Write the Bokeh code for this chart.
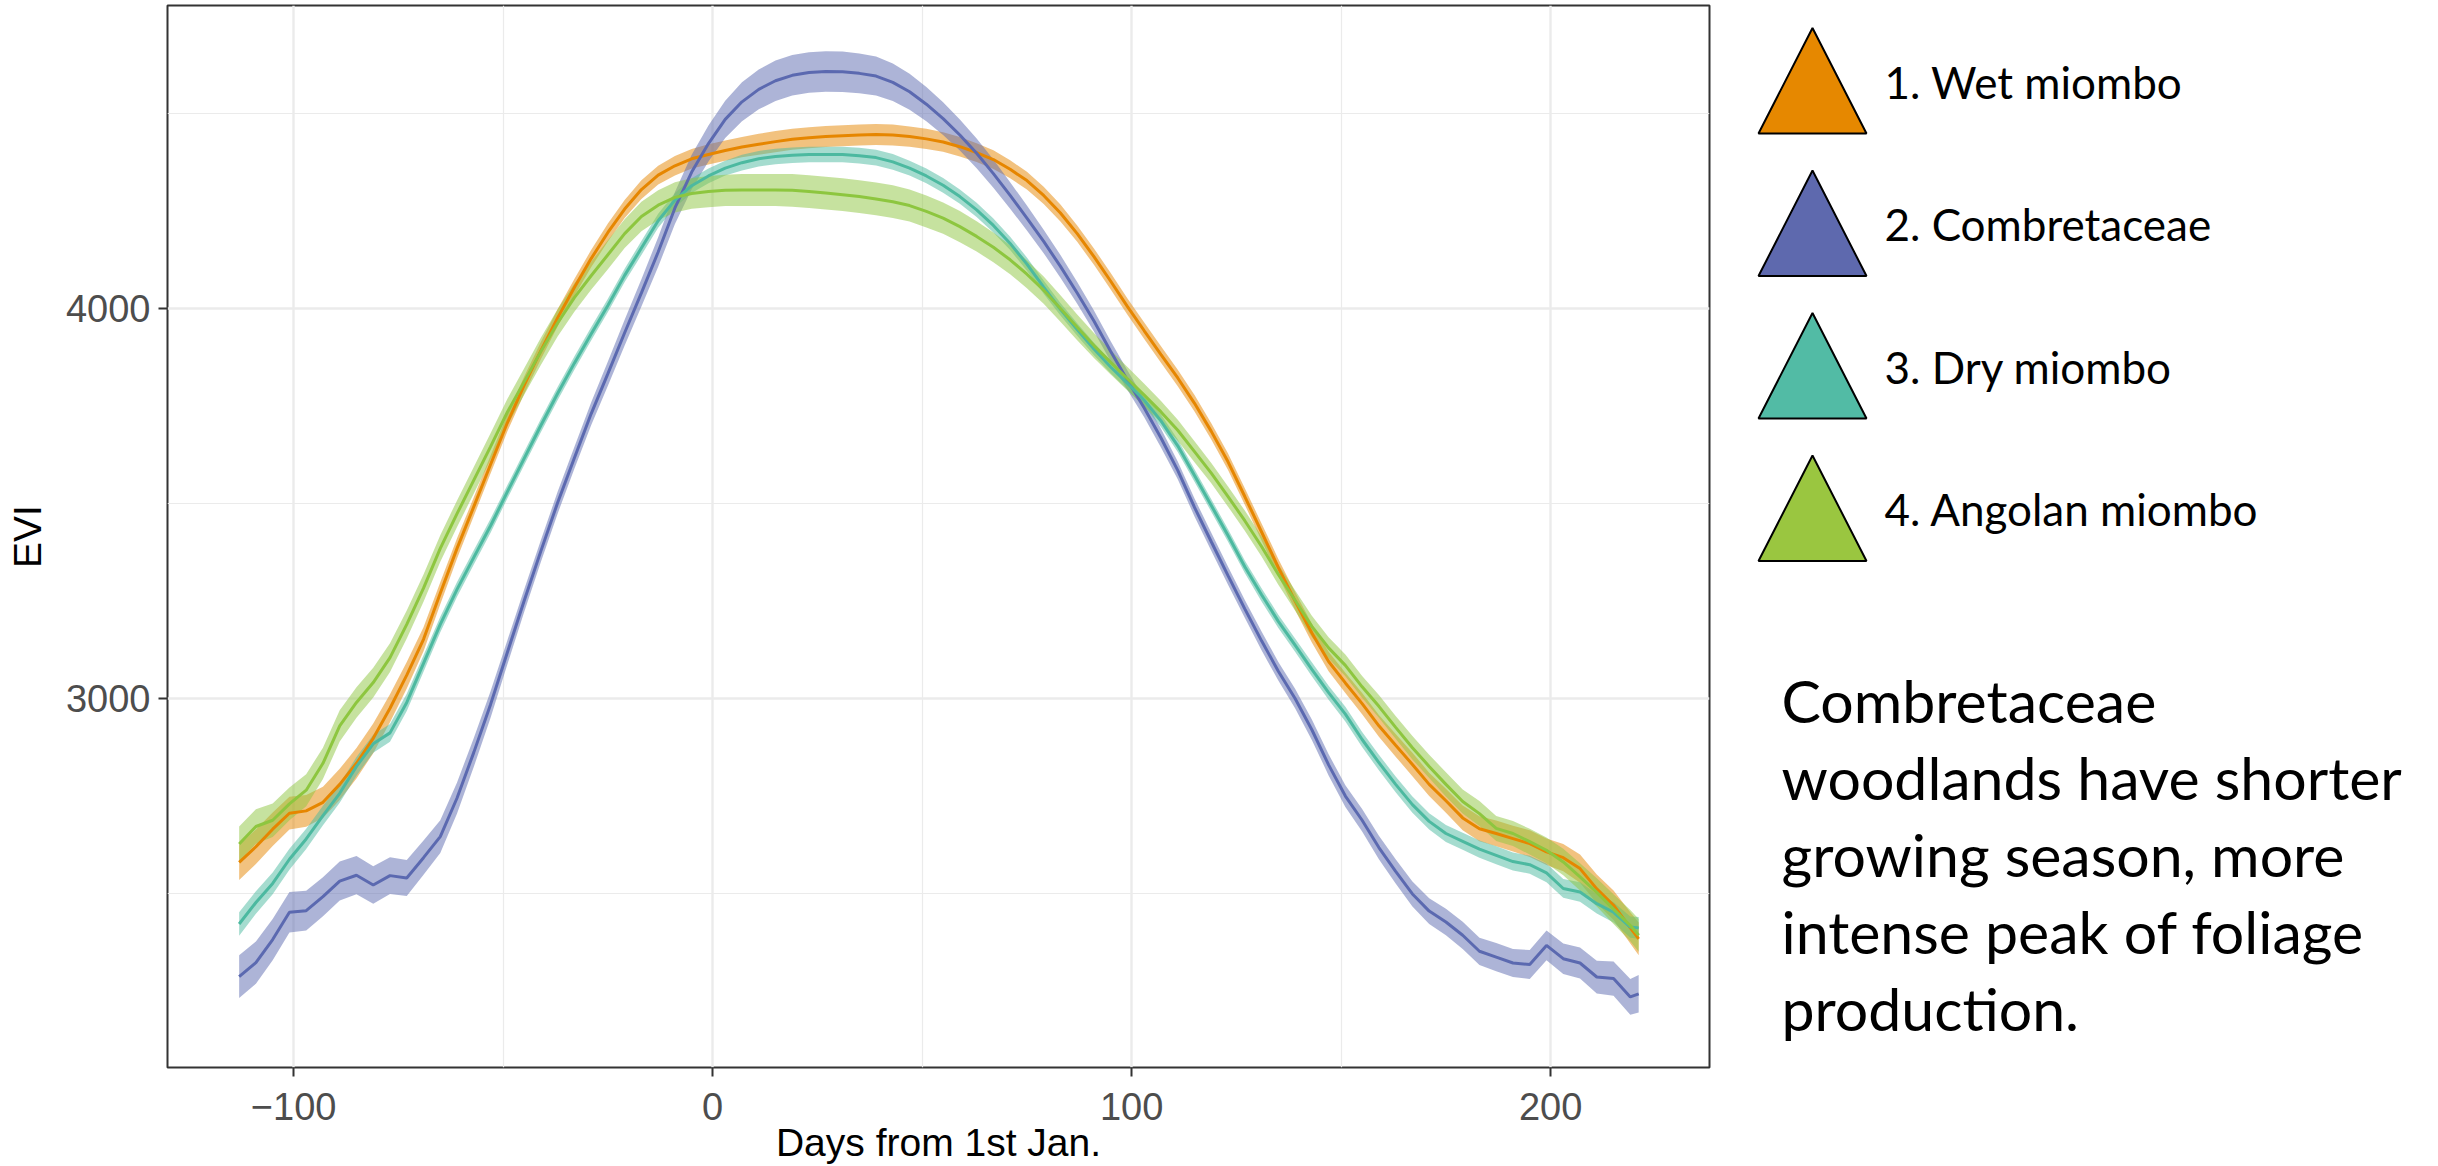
from bokeh.plotting import figure
from bokeh.models import Range1d, FixedTicker
from bokeh.layouts import row
from bokeh.embed import file_html
from bokeh.resources import INLINE
from bokeh.core.properties import value

# ---------------- data ----------------
days = [-113, -109, -105, -101, -97, -93, -89, -85, -81, -77, -73, -69, -65, -61,
        -57, -53, -49, -45, -41, -37, -33, -29, -25, -21, -17, -13, -9, -5, -1,
        3, 7, 11, 15, 19, 23, 27, 31, 35, 39, 43, 47, 51, 55, 59, 63, 67, 71, 75,
        79, 83, 87, 91, 95, 99, 103, 107, 111, 115, 119, 123, 127, 131, 135, 139, 143, 147,
        151, 155, 159, 163, 167, 171, 175, 179, 183, 187, 191, 195, 199, 203, 207, 211, 215, 219, 221]

wet_evi = [2580, 2620, 2665, 2706, 2712, 2734, 2780, 2834, 2898, 2975, 3060, 3152, 3270, 3385,
           3492, 3600, 3707, 3803, 3892, 3976, 4054, 4128, 4195, 4255, 4305, 4342, 4366, 4384, 4395,
           4405, 4414, 4421, 4428, 4434, 4438, 4441, 4443, 4445, 4446, 4445, 4441, 4435, 4427, 4415, 4400, 4382, 4357, 4328,
           4290, 4245, 4192, 4133, 4070, 4005, 3943, 3882, 3822, 3757, 3685, 3607, 3518, 3427, 3336, 3250, 3168, 3095,
           3040, 2987, 2930, 2880, 2831, 2780, 2738, 2694, 2666, 2654, 2641, 2628, 2607, 2592, 2564, 2512, 2470, 2412, 2384]
wet_se = [45, 44, 43, 42, 41, 40, 40, 39, 38, 36, 34, 31, 28, 26,
          24, 23, 22, 22, 22, 22, 22, 22, 23, 23, 24, 24, 25, 25, 26,
          26, 26, 27, 27, 27, 27, 27, 27, 27, 27, 27, 26, 26, 25, 25, 24, 24, 23, 23,
          22, 22, 21, 21, 21, 21, 21, 21, 21, 21, 21, 21, 21, 22, 22, 23, 24, 25,
          26, 27, 28, 29, 30, 30, 31, 32, 32, 33, 33, 34, 34, 35, 36, 37, 38, 40, 42]

comb_evi = [2287, 2323, 2382, 2452, 2456, 2492, 2532, 2547, 2522, 2546, 2540, 2592, 2646, 2745,
            2862, 2985, 3118, 3250, 3378, 3502, 3617, 3730, 3833, 3938, 4040, 4145, 4258, 4350, 4423,
            4485, 4530, 4562, 4584, 4598, 4605, 4608, 4607, 4603, 4596, 4580, 4556, 4524, 4487, 4445, 4398, 4346, 4290, 4232,
            4172, 4108, 4040, 3968, 3890, 3816, 3745, 3668, 3585, 3490, 3402, 3315, 3230, 3148, 3070, 3000, 2920, 2830,
            2750, 2688, 2618, 2557, 2499, 2455, 2427, 2393, 2352, 2337, 2322, 2318, 2367, 2333, 2322, 2286, 2282, 2235, 2243]
comb_se = [55, 54, 53, 52, 51, 50, 50, 49, 48, 47, 46, 44, 42, 40,
           37, 34, 31, 29, 28, 28, 28, 29, 31, 33, 35, 38, 41, 44, 46,
           48, 50, 51, 52, 52, 52, 52, 52, 51, 50, 48, 46, 44, 42, 40, 38, 36, 34, 32,
           30, 29, 28, 27, 26, 25, 24, 24, 23, 23, 23, 23, 23, 24, 24, 25, 26, 27,
           28, 29, 30, 31, 32, 33, 34, 35, 35, 36, 36, 37, 38, 39, 40, 42, 44, 46, 48]

dry_evi = [2422, 2477, 2526, 2588, 2640, 2700, 2757, 2826, 2884, 2912, 2990, 3090, 3190, 3280,
           3362, 3443, 3530, 3615, 3700, 3782, 3860, 3935, 4008, 4085, 4155, 4225, 4278, 4315, 4340,
           4360, 4374, 4384, 4390, 4393, 4395, 4395, 4395, 4392, 4387, 4376, 4360, 4340, 4316, 4287, 4253, 4213, 4167, 4114,
           4055, 3998, 3946, 3896, 3850, 3808, 3765, 3712, 3648, 3572, 3495, 3418, 3338, 3266, 3198, 3137, 3075, 3015,
           2960, 2895, 2836, 2780, 2728, 2685, 2654, 2634, 2614, 2598, 2582, 2574, 2553, 2513, 2504, 2474, 2452, 2414, 2412]
dry_se = [30, 29, 28, 27, 26, 25, 24, 24, 23, 23, 22, 21, 20, 19,
          18, 18, 17, 17, 17, 17, 17, 17, 17, 17, 18, 18, 18, 19, 19,
          19, 20, 20, 20, 20, 20, 20, 20, 20, 20, 20, 19, 19, 19, 18, 18, 18, 17, 17,
          17, 16, 16, 16, 16, 16, 16, 16, 16, 16, 16, 16, 16, 17, 17, 17, 18, 18,
          19, 19, 20, 20, 21, 21, 22, 22, 22, 23, 23, 23, 24, 24, 25, 25, 26, 27, 28]

ang_evi = [2627, 2672, 2688, 2730, 2765, 2834, 2930, 2990, 3041, 3105, 3190, 3283, 3385, 3474,
           3560, 3646, 3734, 3812, 3890, 3963, 4028, 4084, 4138, 4192, 4236, 4265, 4285, 4295, 4300,
           4303, 4304, 4304, 4304, 4303, 4300, 4296, 4292, 4287, 4281, 4274, 4264, 4249, 4232, 4210, 4185, 4157, 4125, 4088,
           4047, 4000, 3952, 3905, 3862, 3820, 3778, 3735, 3688, 3633, 3578, 3518, 3456, 3390, 3318, 3252, 3185, 3130,
           3085, 3030, 2980, 2926, 2874, 2826, 2780, 2736, 2705, 2667, 2654, 2633, 2611, 2581, 2543, 2503, 2460, 2418, 2393]
ang_se = [45, 44, 43, 42, 41, 40, 40, 39, 38, 37, 36, 35, 34, 34,
          34, 34, 34, 34, 35, 35, 36, 36, 37, 37, 38, 38, 39, 39, 40,
          40, 41, 41, 41, 42, 42, 42, 42, 42, 42, 42, 41, 41, 40, 40, 39, 38, 37, 36,
          35, 34, 33, 32, 31, 30, 29, 28, 27, 27, 26, 26, 26, 26, 26, 26, 27, 27,
          28, 28, 29, 29, 30, 30, 31, 31, 32, 32, 32, 33, 33, 34, 35, 36, 38, 40, 42]

series_names = ["1. Wet miombo", "2. Combretaceae", "3. Dry miombo", "4. Angolan miombo"]
x_ticks = [-100, 0, 100, 200]
x_minor = [-50, 50, 150]
y_ticks = [3000, 4000]
y_minor = [2500, 3500, 4500]
x_title = "Days from 1st Jan."
y_title = "EVI"
note_lines = ["Combretaceae", "woodlands have shorter", "growing season, more",
              "intense peak of foliage", "production."]

for arr in (wet_evi, wet_se, comb_evi, comb_se, dry_evi, dry_se, ang_evi, ang_se):
    assert len(arr) == len(days), len(arr)

# ---------------- styles / layout ----------------
line_colors = ["#E68600", "#5B69B0", "#4CB9A0", "#8DC63F"]
legend_fill = ["#E68800", "#5E69AE", "#52BBA5", "#9AC640"]
PAGE_H = 1166
FRAME_TOP, FRAME_BOTTOM = 5, 1067

# ---------------- main panel ----------------
p = figure(width=1719, height=PAGE_H,
           x_range=Range1d(-130.1, 237.9), y_range=Range1d(2054, 4777),
           output_backend="svg", toolbar_location=None,
           min_border_left=167, min_border_right=10,
           min_border_top=FRAME_TOP, min_border_bottom=PAGE_H - FRAME_BOTTOM)
p.background_fill_color = "white"
p.border_fill_color = "white"
p.outline_line_color = "#333333"
p.outline_line_width = 2

p.xaxis.ticker = FixedTicker(ticks=x_ticks, minor_ticks=x_minor)
p.yaxis.ticker = FixedTicker(ticks=y_ticks, minor_ticks=y_minor)
p.xaxis.major_label_overrides = {t: (("\u2212" + str(-t)) if t < 0 else str(t)) for t in x_ticks}

for g in (p.xgrid, p.ygrid):
    g.grid_line_color = "#EBEBEB"
    g.grid_line_width = 2.4
    g.minor_grid_line_color = "#EBEBEB"
    g.minor_grid_line_width = 1.2

for ax in (p.xaxis, p.yaxis):
    ax.axis_line_color = None
    ax.major_tick_in = 0
    ax.major_tick_out = 9
    ax.minor_tick_in = 0
    ax.minor_tick_out = 0
    ax.major_tick_line_color = "#333333"
    ax.major_tick_line_width = 2
    ax.major_label_text_font = "Liberation Sans"
    ax.major_label_text_font_size = "38px"
    ax.major_label_text_color = "#4D4D4D"
    ax.axis_label_text_font = "Liberation Sans"
    ax.axis_label_text_font_size = "39px"
    ax.axis_label_text_font_style = "normal"
    ax.axis_label_text_color = "black"

p.xaxis.axis_label = x_title
p.yaxis.axis_label = y_title
p.xaxis.major_label_standoff = 16
p.xaxis.axis_label_standoff = -2
p.yaxis.major_label_standoff = 8
p.yaxis.axis_label_standoff = 14

series = [(wet_evi, wet_se), (comb_evi, comb_se), (dry_evi, dry_se), (ang_evi, ang_se)]
for (evi, se), c in zip(series, line_colors):
    lo = [m - s for m, s in zip(evi, se)]
    hi = [m + s for m, s in zip(evi, se)]
    p.varea(x=days, y1=lo, y2=hi, fill_color=c, fill_alpha=0.5)
for (evi, se), c in zip(series, line_colors):
    p.line(days, evi, line_color=c, line_width=3)

# ---------------- legend & note panel (page-pixel coordinates) ----------------
side_left, side_w = 1719, 719
p2 = figure(width=side_w, height=PAGE_H,
            x_range=Range1d(side_left, side_left + side_w),
            y_range=Range1d(FRAME_BOTTOM, FRAME_TOP),
            output_backend="svg", toolbar_location=None,
            min_border_left=0, min_border_right=0,
            min_border_top=FRAME_TOP, min_border_bottom=PAGE_H - FRAME_BOTTOM,
            x_axis_type=None, y_axis_type=None)
p2.outline_line_color = None
p2.background_fill_color = "white"
p2.border_fill_color = "white"

tri_cx, tri_w, tri_h, tri_top0, step = 1812, 108, 105.5, 27.5, 142.5
xs, ys = [], []
for k in range(len(series_names)):
    top = tri_top0 + k * step
    xs.append([tri_cx - tri_w / 2, tri_cx, tri_cx + tri_w / 2])
    ys.append([top + tri_h, top, top + tri_h])
p2.patches(xs, ys, fill_color=legend_fill, line_color="black", line_width=2)
p2.text(x=[1884] * len(series_names), y=[81 + k * step for k in range(len(series_names))],
        text=series_names, text_font=value("Lato"), text_font_size="44px",
        text_baseline="alphabetic", text_align="left", text_color="black")
p2.text(x=[1781] * len(note_lines), y=[700 + 77 * k for k in range(len(note_lines))],
        text=note_lines, text_font=value("Lato"), text_font_size="59px",
        text_baseline="alphabetic", text_align="left", text_color="black")

layout = row(p, p2, spacing=0)
open("out.html", "w").write(file_html(layout, INLINE, title="EVI phenology"))
